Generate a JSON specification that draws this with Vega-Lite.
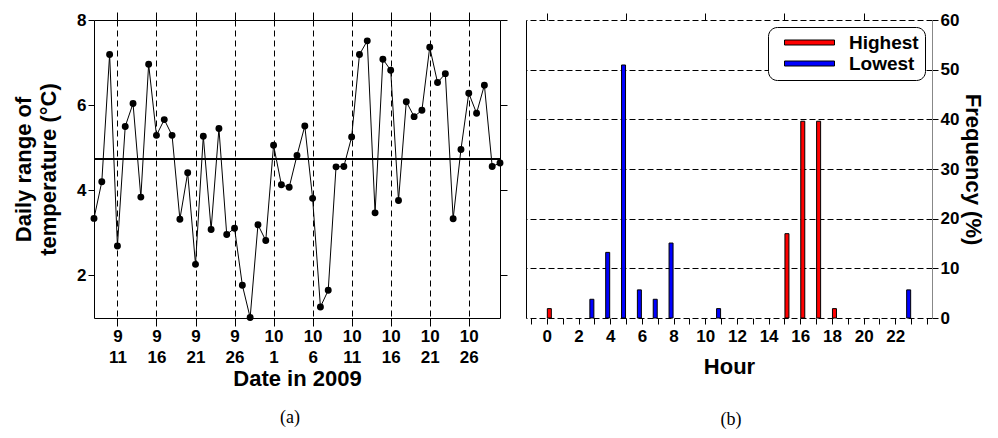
{
  "$schema": "https://vega.github.io/schema/vega-lite/v6.json",
  "background": "white",
  "padding": {"left": 12, "top": 10, "right": 0, "bottom": 0},
  "bounds": "flush",
  "spacing": 26,
  "resolve": {"legend": {"color": "independent"}},
  "config": {
    "view": {"stroke": null},
    "font": "Liberation Sans",
    "axis": {
      "labelFont": "Liberation Sans", "labelFontSize": 17, "labelFontWeight": "bold", "labelColor": "black",
      "titleFont": "Liberation Sans", "titleFontSize": 22, "titleFontWeight": "bold", "titleColor": "black",
      "tickColor": "black", "domainColor": "black", "gridColor": "black", "gridOpacity": 1, "tickWidth": 1
    },
    "title": {"font": "Liberation Serif", "fontSize": 18, "fontWeight": "normal", "color": "black"}
  },
  "hconcat": [
    {
      "width": 406,
      "height": 298,
      "view": {"stroke": "black", "strokeWidth": 1},
      "title": {"text": "(a)", "orient": "bottom", "anchor": "middle", "frame": "group", "offset": 20, "dx": -7},
      "data": {"values": [
        {"date": "2009-09-08", "range": 3.34},
        {"date": "2009-09-09", "range": 4.20},
        {"date": "2009-09-10", "range": 7.19},
        {"date": "2009-09-11", "range": 2.69},
        {"date": "2009-09-12", "range": 5.50},
        {"date": "2009-09-13", "range": 6.04},
        {"date": "2009-09-14", "range": 3.84},
        {"date": "2009-09-15", "range": 6.96},
        {"date": "2009-09-16", "range": 5.29},
        {"date": "2009-09-17", "range": 5.66},
        {"date": "2009-09-18", "range": 5.29},
        {"date": "2009-09-19", "range": 3.32},
        {"date": "2009-09-20", "range": 4.41},
        {"date": "2009-09-21", "range": 2.26},
        {"date": "2009-09-22", "range": 5.27},
        {"date": "2009-09-23", "range": 3.08},
        {"date": "2009-09-24", "range": 5.45},
        {"date": "2009-09-25", "range": 2.96},
        {"date": "2009-09-26", "range": 3.11},
        {"date": "2009-09-27", "range": 1.77},
        {"date": "2009-09-28", "range": 1.01},
        {"date": "2009-09-29", "range": 3.19},
        {"date": "2009-09-30", "range": 2.82},
        {"date": "2009-10-01", "range": 5.06},
        {"date": "2009-10-02", "range": 4.13},
        {"date": "2009-10-03", "range": 4.07},
        {"date": "2009-10-04", "range": 4.82},
        {"date": "2009-10-05", "range": 5.51},
        {"date": "2009-10-06", "range": 3.81},
        {"date": "2009-10-07", "range": 1.26},
        {"date": "2009-10-08", "range": 1.65},
        {"date": "2009-10-09", "range": 4.55},
        {"date": "2009-10-10", "range": 4.56},
        {"date": "2009-10-11", "range": 5.25},
        {"date": "2009-10-12", "range": 7.19},
        {"date": "2009-10-13", "range": 7.51},
        {"date": "2009-10-14", "range": 3.47},
        {"date": "2009-10-15", "range": 7.08},
        {"date": "2009-10-16", "range": 6.82},
        {"date": "2009-10-17", "range": 3.76},
        {"date": "2009-10-18", "range": 6.08},
        {"date": "2009-10-19", "range": 5.73},
        {"date": "2009-10-20", "range": 5.88},
        {"date": "2009-10-21", "range": 7.36},
        {"date": "2009-10-22", "range": 6.53},
        {"date": "2009-10-23", "range": 6.74},
        {"date": "2009-10-24", "range": 3.33},
        {"date": "2009-10-25", "range": 4.96},
        {"date": "2009-10-26", "range": 6.28},
        {"date": "2009-10-27", "range": 5.81},
        {"date": "2009-10-28", "range": 6.47},
        {"date": "2009-10-29", "range": 4.56},
        {"date": "2009-10-30", "range": 4.64}
      ]},
      "resolve": {"axis": {"x": "independent", "y": "independent"}},
      "layer": [
        {
          "mark": {"type": "line", "color": "black", "strokeWidth": 1},
          "encoding": {
            "x": {"field": "date", "type": "temporal",
              "scale": {"type": "utc", "domain": [{"year": 2009, "month": 9, "date": 8, "utc": true}, {"year": 2009, "month": 10, "date": 30, "utc": true}]},
              "axis": {"orient": "bottom", "title": "Date in 2009", "domain": false, "tickSize": 8, "labelPadding": 2, "titlePadding": 3,
                "labelLineHeight": 21, "labelFlush": false,
                "values": [
                  {"year": 2009, "month": 9, "date": 11, "utc": true},
                  {"year": 2009, "month": 9, "date": 16, "utc": true},
                  {"year": 2009, "month": 9, "date": 21, "utc": true},
                  {"year": 2009, "month": 9, "date": 26, "utc": true},
                  {"year": 2009, "month": 10, "date": 1, "utc": true},
                  {"year": 2009, "month": 10, "date": 6, "utc": true},
                  {"year": 2009, "month": 10, "date": 11, "utc": true},
                  {"year": 2009, "month": 10, "date": 16, "utc": true},
                  {"year": 2009, "month": 10, "date": 21, "utc": true},
                  {"year": 2009, "month": 10, "date": 26, "utc": true}
                ],
                "labelExpr": "[utcFormat(datum.value, '%-m'), utcFormat(datum.value, '%-d')]",
                "grid": true, "gridDash": [6, 4], "gridColor": "black"}},
            "y": {"field": "range", "type": "quantitative",
              "scale": {"domain": [1, 8], "nice": false, "zero": false},
              "axis": {"orient": "left", "title": ["Daily range of", "temperature (°C)"], "titleLineHeight": 25,
                "values": [2, 4, 6, 8], "domain": false, "tickSize": 6, "labelPadding": 2, "titlePadding": 16, "grid": false}}
          }
        },
        {
          "mark": {"type": "circle", "color": "black", "size": 48, "opacity": 1},
          "encoding": {
            "x": {"field": "date", "type": "temporal",
              "scale": {"type": "utc", "domain": [{"year": 2009, "month": 9, "date": 8, "utc": true}, {"year": 2009, "month": 10, "date": 30, "utc": true}]},
              "axis": {"orient": "top", "title": null, "labels": false, "domain": false, "tickSize": 8, "grid": false,
                "values": [
                  {"year": 2009, "month": 9, "date": 11, "utc": true},
                  {"year": 2009, "month": 9, "date": 16, "utc": true},
                  {"year": 2009, "month": 9, "date": 21, "utc": true},
                  {"year": 2009, "month": 9, "date": 26, "utc": true},
                  {"year": 2009, "month": 10, "date": 1, "utc": true},
                  {"year": 2009, "month": 10, "date": 6, "utc": true},
                  {"year": 2009, "month": 10, "date": 11, "utc": true},
                  {"year": 2009, "month": 10, "date": 16, "utc": true},
                  {"year": 2009, "month": 10, "date": 21, "utc": true},
                  {"year": 2009, "month": 10, "date": 26, "utc": true}
                ]}},
            "y": {"field": "range", "type": "quantitative",
              "scale": {"domain": [1, 8], "nice": false, "zero": false},
              "axis": {"orient": "right", "title": null, "labels": false, "domain": false, "tickSize": 7, "grid": false, "values": [2, 4, 6, 8]}}
          }
        },
        {
          "mark": {"type": "rule", "color": "black", "strokeWidth": 1},
          "encoding": {"y": {"datum": 4.74, "type": "quantitative", "axis": null}}
        }
      ]
    },
    {
      "width": 406,
      "height": 298,
      "title": {"text": "(b)", "orient": "bottom", "anchor": "middle", "frame": "group", "offset": 34, "dx": 2},
      "data": {"values": [
        {"hour": 0, "series": "Highest", "freq": 1.89},
        {"hour": 15, "series": "Highest", "freq": 16.98},
        {"hour": 16, "series": "Highest", "freq": 39.62},
        {"hour": 17, "series": "Highest", "freq": 39.62},
        {"hour": 18, "series": "Highest", "freq": 1.89},
        {"hour": 3, "series": "Lowest", "freq": 3.77},
        {"hour": 4, "series": "Lowest", "freq": 13.21},
        {"hour": 5, "series": "Lowest", "freq": 50.94},
        {"hour": 6, "series": "Lowest", "freq": 5.66},
        {"hour": 7, "series": "Lowest", "freq": 3.77},
        {"hour": 8, "series": "Lowest", "freq": 15.09},
        {"hour": 11, "series": "Lowest", "freq": 1.89},
        {"hour": 23, "series": "Lowest", "freq": 5.66}
      ]},
      "resolve": {"axis": {"x": "independent", "y": "independent"}},
      "layer": [
        {
          "transform": [{"filter": "datum.series == 'Highest'"}],
          "mark": {"type": "bar", "orient": "vertical", "width": 4, "xOffset": 2.5, "stroke": "black", "strokeWidth": 1},
          "encoding": {
            "x": {"field": "hour", "type": "quantitative",
              "scale": {"domain": [-1, 24], "nice": false, "zero": false},
              "axis": {"orient": "bottom", "title": "Hour", "domain": false, "tickSize": 6, "labelPadding": 4, "titlePadding": 12,
                "values": [-1, 0, 1, 2, 3, 4, 5, 6, 7, 8, 9, 10, 11, 12, 13, 14, 15, 16, 17, 18, 19, 20, 21, 22, 23, 24],
                "labelExpr": "(datum.value >= 0 && datum.value <= 22 && datum.value % 2 == 0) ? datum.label : ''",
                "labelFlush": false, "labelOverlap": false, "grid": false}},
            "y": {"field": "freq", "type": "quantitative",
              "scale": {"domain": [0, 60], "nice": false},
              "axis": {"orient": "right", "title": "Frequency (%)", "titleAngle": 90, "titlePadding": 2,
                "values": [0, 10, 20, 30, 40, 50, 60], "domainColor": "#888888", "tickSize": 6, "labelPadding": 2,
                "grid": true, "gridDash": [6, 3], "gridColor": "black"}},
            "color": {"field": "series", "type": "nominal",
              "scale": {"domain": ["Highest", "Lowest"], "range": ["#ff0000", "#0000ff"]},
              "legend": {"title": null, "orient": "top-right", "offset": 7,
                "symbolType": "M-1,-0.5H9V0.5H-1Z", "symbolSize": 100, "symbolOffset": 6, "symbolStrokeColor": "black", "symbolStrokeWidth": 1, "symbolOpacity": 1,
                "labelFont": "Liberation Sans", "labelFontSize": 19, "labelFontWeight": "bold", "labelColor": "black", "labelOffset": 50,
                "labelExpr": "datum.label + '  '",
                "strokeColor": "black", "fillColor": "white", "cornerRadius": 9, "padding": 6, "rowPadding": 1}}
          }
        },
        {
          "transform": [{"filter": "datum.series == 'Lowest'"}],
          "mark": {"type": "bar", "orient": "vertical", "width": 4, "xOffset": -2.5, "stroke": "black", "strokeWidth": 1},
          "encoding": {
            "x": {"field": "hour", "type": "quantitative",
              "scale": {"domain": [-1, 24], "nice": false, "zero": false},
              "axis": {"orient": "top", "title": null, "labels": false, "domain": false, "tickSize": 7, "grid": false,
                "values": [0, 5, 10, 15, 20]}},
            "y": {"field": "freq", "type": "quantitative",
              "scale": {"domain": [0, 60], "nice": false},
              "axis": {"orient": "left", "title": null, "labels": false, "ticks": false, "domain": true, "domainColor": "black", "grid": false}},
            "color": {"field": "series", "type": "nominal",
              "scale": {"domain": ["Highest", "Lowest"], "range": ["#ff0000", "#0000ff"]}}
          }
        }
      ]
    }
  ]
}
